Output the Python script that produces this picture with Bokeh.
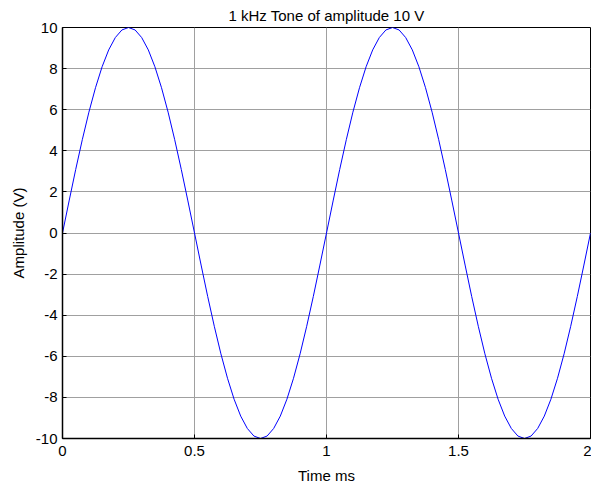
from bokeh.plotting import figure
from bokeh.models import Range1d, FixedTicker
from bokeh.embed import file_html
from bokeh.resources import INLINE

# time in ms
time_ms = [i * 0.025 for i in range(81)]
# amplitude (V)
amplitude = [
    0.00, 1.56, 3.09, 4.54, 5.88, 7.07, 8.09, 8.91, 9.51, 9.88,
    10.00, 9.88, 9.51, 8.91, 8.09, 7.07, 5.88, 4.54, 3.09, 1.56,
    0.00, -1.56, -3.09, -4.54, -5.88, -7.07, -8.09, -8.91, -9.51, -9.88,
    -10.00, -9.88, -9.51, -8.91, -8.09, -7.07, -5.88, -4.54, -3.09, -1.56,
    0.00, 1.56, 3.09, 4.54, 5.88, 7.07, 8.09, 8.91, 9.51, 9.88,
    10.00, 9.88, 9.51, 8.91, 8.09, 7.07, 5.88, 4.54, 3.09, 1.56,
    0.00, -1.56, -3.09, -4.54, -5.88, -7.07, -8.09, -8.91, -9.51, -9.88,
    -10.00, -9.88, -9.51, -8.91, -8.09, -7.07, -5.88, -4.54, -3.09, -1.56,
    0.00,
]
x_ticks = [0, 0.5, 1, 1.5, 2]
x_tick_labels = ["0", "0.5", "1", "1.5", "2"]
y_ticks = [-10, -8, -6, -4, -2, 0, 2, 4, 6, 8, 10]
y_tick_labels = [str(v) for v in y_ticks]
title_text = "1 kHz Tone of amplitude 10 V"

FONT = "Liberation Sans"

p = figure(width=591, height=488, output_backend="svg", toolbar_location=None,
           x_range=Range1d(0, 2), y_range=Range1d(-10, 10),
           min_border_left=62, min_border_right=1, min_border_top=27, min_border_bottom=50)
p.title.text = title_text
p.title.align = "center"
p.title.text_font = FONT
p.title.text_font_size = "15px"
p.title.text_font_style = "normal"
p.title.text_color = "black"
p.title.standoff = 8
p.title.offset = 0

p.line(time_ms, amplitude, line_color="#0000ff", line_width=1)

p.xaxis.ticker = FixedTicker(ticks=x_ticks)
p.yaxis.ticker = FixedTicker(ticks=y_ticks)
p.xaxis.major_label_overrides = {t: l for t, l in zip(x_ticks, x_tick_labels)}
p.yaxis.major_label_overrides = {t: l for t, l in zip(y_ticks, y_tick_labels)}
p.xaxis.axis_label = "Time ms"
p.yaxis.axis_label = "Amplitude (V)"
for ax in (p.xaxis[0], p.yaxis[0]):
    ax.axis_label_text_font = FONT
    ax.axis_label_text_font_size = "15px"
    ax.axis_label_text_font_style = "normal"
    ax.axis_label_text_color = "black"
    ax.major_label_text_font = FONT
    ax.major_label_text_font_size = "15px"
    ax.major_label_text_color = "black"
    ax.axis_line_color = "black"
    ax.axis_line_width = 1.5
    ax.major_tick_in = 4
    ax.major_tick_out = 0
    ax.major_tick_line_color = "black"
    ax.minor_tick_line_color = None
p.xaxis.major_label_standoff = 7
p.yaxis.major_label_standoff = 5
p.xaxis.axis_label_standoff = 8
p.yaxis.axis_label_standoff = 6

p.grid.grid_line_color = "#a0a0a0"
p.grid.grid_line_width = 1
p.outline_line_color = "black"
p.outline_line_width = 1
p.background_fill_color = "white"

open("out.html", "w").write(file_html(p, INLINE))
